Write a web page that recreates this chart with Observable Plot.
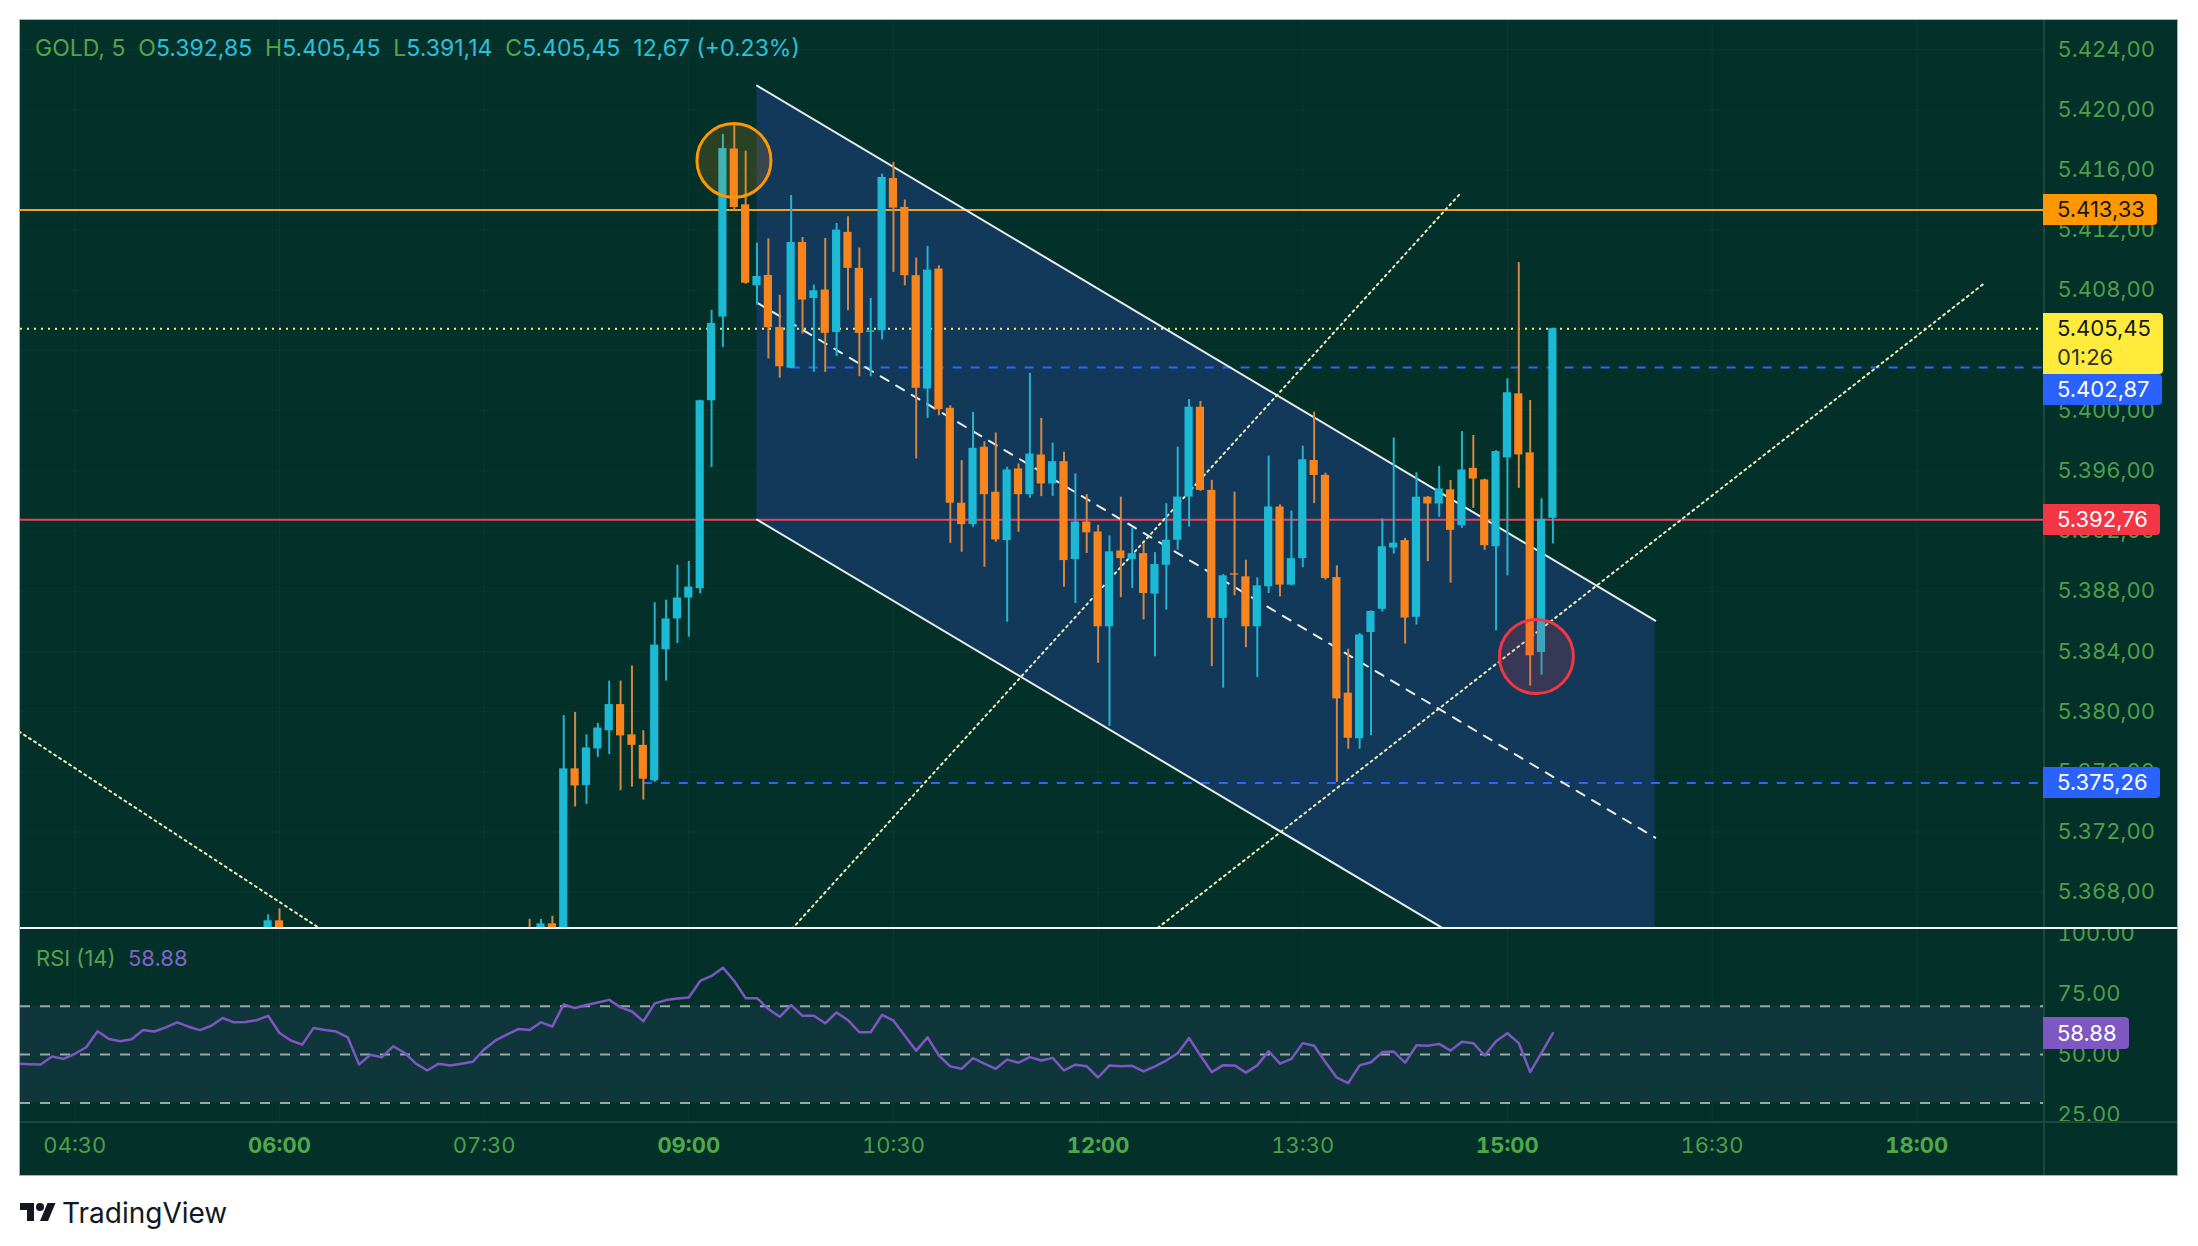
<!DOCTYPE html>
<html><head><meta charset="utf-8">
<script src="https://cdn.jsdelivr.net/npm/d3@7"></script>
<script src="https://cdn.jsdelivr.net/npm/@observablehq/plot@0.6"></script>
<style>
html,body{margin:0;padding:0;background:#fff;width:2198px;height:1246px;overflow:hidden;font-family:Inter,"DejaVu Sans",sans-serif;}
#frame{position:absolute;left:20px;top:20px;width:2157px;height:1155px;background:#03312a;outline:1px solid #a7b6b0;overflow:hidden}
#main,#rsi{position:absolute;left:0}
#main{top:0}
#rsi{top:908px}
.ln{position:absolute}
.tag{position:absolute;left:2023px;font-size:22px;line-height:31px;padding:0 12px 0 14px;border-radius:0 4px 4px 0;white-space:nowrap}
#hdr{position:absolute;left:15px;top:14px;font-size:23px;color:#27c2dc;white-space:pre}
#hdr .g{color:#55a34c}
#rsihdr{position:absolute;left:16px;top:925px;font-size:22px;white-space:pre}
#logo{position:absolute;left:20px;top:1196px;display:flex;align-items:center;gap:6px;font-size:28px;color:#131722}
</style></head>
<body>
<div id="frame"></div>
<div id="logo"><svg width="36" height="28" viewBox="0 0 36 28"><path d="M14 22H7V11H0V4h14v18zM28 22h-8l7.5-18h8L28 22z" fill="#131722"/><circle cx="20" cy="8" r="4" fill="#131722"/></svg><span>TradingView</span></div>
<script>
// ---------- DATA ----------
const symbol = "GOLD, 5";
const barIndex = [-37,-36,-14,-13,-12,-11,-10,-9,-8,-7,-6,-5,-4,-3,-2,-1,0,1,2,3,4,5,6,7,8,9,10,11,12,13,14,15,16,17,18,19,20,21,22,23,24,25,26,27,28,29,30,31,32,33,34,35,36,37,38,39,40,41,42,43,44,45,46,47,48,49,50,51,52,53,54,55,56,57,58,59,60,61,62,63,64,65,66,67,68,69,70,71,72,73,74,75,76];
const openP  = [5363.5,5366.1,5365.5,5364.3,5365.9,5364.6,5376.2,5375.09,5377.52,5378.73,5380.47,5378.46,5377.76,5375.4,5384.11,5386.16,5387.55,5388.17,5400.66,5406.22,5417.39,5413.68,5408.3,5408.99,5405.52,5402.82,5411.18,5407.46,5408.02,5405.2,5411.85,5409.46,5405.2,5405.32,5415.43,5413.51,5408.97,5401.44,5409.41,5400.16,5393.85,5392.43,5397.57,5394.58,5391.37,5396.13,5394.42,5397.06,5395.13,5396.61,5390.11,5392.6,5391.94,5385.64,5390.68,5390.11,5390.5,5387.81,5389.73,5391.39,5394.26,5400.23,5394.7,5386.2,5389.16,5388.96,5385.64,5388.3,5393.6,5388.41,5390.17,5396.69,5395.7,5388.91,5381.23,5378.2,5385.26,5386.8,5390.87,5391.37,5386.27,5394.25,5393.8,5394.74,5392.36,5396.17,5395.4,5390.96,5396.86,5401.12,5397.2,5383.93,5392.85];
const highP  = [5366.5,5366.9,5366.2,5366.2,5366.4,5379.74,5379.95,5378.46,5379.22,5382.03,5382.03,5383.04,5378.73,5387.24,5387.41,5389.73,5389.98,5400.7,5406.67,5418.36,5418.99,5417.25,5411.14,5411.42,5407.67,5414.3,5411.51,5408.35,5411.45,5412.44,5412.89,5410.81,5407.46,5415.72,5416.5,5414.0,5410.14,5410.92,5409.63,5400.33,5396.68,5399.89,5397.94,5398.52,5396.24,5396.46,5402.48,5399.49,5397.85,5397.24,5395.81,5394.42,5392.38,5391.68,5394.26,5392.21,5391.17,5390.57,5393.82,5397.58,5400.74,5400.61,5395.37,5389.11,5394.59,5390.06,5388.89,5396.98,5393.75,5393.33,5397.64,5399.9,5395.85,5389.69,5384.15,5385.2,5386.7,5392.8,5398.19,5391.52,5395.87,5394.3,5396.29,5395.36,5398.61,5398.35,5395.45,5397.35,5402.12,5409.84,5400.68,5394.14,5405.45];
const lowP   = [5363.0,5363.8,5363.9,5364.0,5364.2,5364.3,5373.67,5373.84,5376.96,5377.14,5374.74,5374.99,5374.12,5375.3,5382.03,5384.53,5384.95,5387.83,5396.22,5404.2,5413.3,5408.4,5407.01,5403.44,5402.16,5402.8,5405.09,5402.55,5402.55,5403.61,5406.64,5402.26,5402.26,5404.7,5409.19,5408.3,5396.79,5399.49,5399.67,5391.19,5390.59,5392.25,5389.6,5391.26,5385.94,5391.92,5394.18,5394.29,5394.31,5388.27,5387.19,5390.51,5383.21,5379.01,5387.57,5388.19,5386.09,5383.65,5386.75,5390.73,5392.27,5394.64,5382.99,5381.56,5387.7,5384.25,5382.26,5387.85,5387.63,5388.35,5389.56,5393.82,5388.74,5375.3,5377.5,5377.5,5378.4,5386.62,5390.47,5384.49,5385.76,5389.97,5392.91,5388.54,5392.18,5393.51,5390.72,5385.37,5389.03,5394.84,5381.71,5382.42,5391.14];
const closeP = [5366.1,5364.2,5364.3,5365.9,5364.6,5376.2,5375.06,5377.59,5378.91,5380.47,5378.39,5377.76,5375.51,5384.42,5386.16,5387.55,5388.28,5400.66,5405.8,5417.42,5413.5,5408.47,5408.92,5405.52,5402.92,5411.18,5407.35,5407.97,5405.14,5412.0,5409.46,5405.14,5405.3,5415.5,5413.46,5408.97,5401.49,5409.34,5400.07,5393.85,5392.43,5397.5,5394.42,5391.41,5396.06,5394.42,5397.12,5395.13,5396.61,5390.04,5392.6,5391.88,5385.64,5390.62,5390.17,5390.5,5387.85,5389.78,5391.39,5394.26,5400.23,5394.7,5386.2,5389.03,5389.07,5385.64,5388.36,5393.6,5388.41,5390.17,5396.74,5395.7,5388.85,5380.85,5378.23,5385.09,5386.66,5390.96,5391.2,5386.22,5394.25,5393.8,5394.8,5392.05,5396.06,5395.46,5391.03,5397.28,5401.19,5397.06,5383.71,5392.78,5405.45];

const rsiFirstBar = -59;
const rsiValues = [46.2,46.0,45.9,49.2,48.2,50.3,53.0,59.6,56.4,55.5,56.3,60.1,59.5,61.2,63.3,61.5,60.1,61.9,65.1,63.3,63.4,64.2,66.0,58.9,55.8,54.1,61.0,60.1,59.5,57.1,45.9,49.9,48.9,53.4,50.7,46.2,43.4,46.2,45.5,46.2,47.0,52.1,55.8,58.2,60.5,60.1,63.3,61.6,70.7,69.2,70.5,71.5,72.6,69.5,67.8,63.7,71.1,72.5,73.2,73.6,80.4,82.5,85.9,80.4,73.3,73.3,68.8,65.6,70.4,66.0,66.0,62.9,67.4,64.2,59.2,59.2,66.4,64.0,57.8,51.6,57.1,49.6,45.1,44.1,48.5,46.2,44.1,47.9,46.6,48.9,47.5,48.6,43.4,45.8,45.1,40.5,45.5,45.1,45.3,43.0,45.1,47.5,50.5,56.8,49.6,42.7,45.6,45.5,42.5,45.5,51.4,46.2,48.2,54.7,53.6,46.8,40.4,38.2,45.5,46.8,51.0,51.2,46.6,53.8,53.6,54.4,51.6,55.3,54.7,49.6,55.5,58.8,54.7,42.7,50.7,58.88];
const rsiLevels = [70, 50, 30];
const rsiTicks = [25, 50, 75, 100];

const timeTickBars = [-54,-36,-18,0,18,36,54,72,90,108];
const timeTickLabels = ["04:30","06:00","07:30","09:00","10:30","12:00","13:30","15:00","16:30","18:00"];
const priceTicks = [5368,5372,5376,5380,5384,5388,5392,5396,5400,5404,5408,5412,5416,5420,5424];

// drawings
const levelPrices = [5413.33, 5405.45, 5402.87, 5392.76, 5375.26];
const levelStartBar = [null, null, 9, null, -4];
const levelStyle = ["solid-orange","dotted-yellow","dashed-blue","solid-red","dashed-blue"];
const channelBars = [6, 85];
const channelUpper = [5421.6, 5386.05];
const channelLower = [5392.76, 5357.2];
const trendBars = [[-62, -30], [8, 67.93], [40, 113.9]];
const trendPrices = [[5380.21, 5364.38], [5364.67, 5414.5], [5364.9, 5408.44]];
const markerBars = [3.97, 74.55];
const markerPrices = [5416.63, 5383.66];
const markerColors = ["#ff9800", "#f23645"];
const countdown = "01:26";

// ---------- RENDER ----------
const W = 2157, AXW = 134, MAINH = 908, RSIH = 193, TAXH = 54;
const xDomain = [-58.78, 119.15];
const yDomain = [5365.59, 5425.93];
const green = "#4f9e49";
const UP = "#1cb9d5", DOWN = "#f7841d", UPW = "#22b3cf", DOWNW = "#d38743";
const fmt = d3.formatLocale({decimal: ",", thousands: ".", grouping: [3], currency: ["", ""]}).format(",.2f");

const bars = barIndex.map((n, i) => ({n, o: openP[i], h: highP[i], l: lowP[i], c: closeP[i], up: closeP[i] >= openP[i]}));
const channel = channelBars.map((n, i) => ({n, upper: channelUpper[i], lower: channelLower[i], mid: (channelUpper[i] + channelLower[i]) / 2}));
const trends = trendBars.flatMap((ns, k) => ns.map((n, j) => ({id: k, n, p: trendPrices[k][j]})));
const markers = markerBars.map((n, i) => ({n, p: markerPrices[i], color: markerColors[i]}));
const levels = levelPrices.map((p, i) => ({p, start: levelStartBar[i] ?? xDomain[0], style: levelStyle[i]}));
const rsi = rsiValues.map((v, i) => ({n: rsiFirstBar + i, v}));

const lvl = s => levels.filter(d => d.style === s);

const main = Plot.plot({
  width: W, height: MAINH, marginLeft: 0, marginRight: AXW, marginTop: 0, marginBottom: 0,
  x: {domain: xDomain, axis: null},
  y: {domain: yDomain, axis: null},
  style: {background: "transparent", fontFamily: "Inter, 'DejaVu Sans', sans-serif", fontSize: "22px", overflow: "hidden"},
  marks: [
    Plot.gridY(priceTicks, {stroke: "#ffffff", strokeOpacity: 0.035}),
    Plot.gridX(timeTickBars, {stroke: "#ffffff", strokeOpacity: 0.035}),
    Plot.areaY(channel, {x: "n", y1: "lower", y2: "upper", fill: "#13395a", clip: true}),
    Plot.ruleY(lvl("solid-orange"), {y: "p", x1: "start", x2: xDomain[1], stroke: "#f5a020", strokeWidth: 2, clip: true}),
    Plot.ruleY(lvl("solid-red"), {y: "p", x1: "start", x2: xDomain[1], stroke: "#f0405a", strokeWidth: 2, clip: true}),
    Plot.ruleY(lvl("dotted-yellow"), {y: "p", x1: "start", x2: xDomain[1], stroke: "#f3f07a", strokeWidth: 2, strokeDasharray: "2,5", clip: true}),
    Plot.ruleY(lvl("dashed-blue"), {y: "p", x1: "start", x2: xDomain[1], stroke: "#2b66ff", strokeWidth: 2, strokeDasharray: "9,9", clip: true}),
    Plot.line(channel, {x: "n", y: "upper", stroke: "#e8eef0", strokeWidth: 2, clip: true}),
    Plot.line(channel, {x: "n", y: "lower", stroke: "#e8eef0", strokeWidth: 2, clip: true}),
    Plot.line(channel, {x: "n", y: "mid", stroke: "#e8eef0", strokeWidth: 2, strokeDasharray: "9,9", clip: true}),
    Plot.line(trends, {x: "n", y: "p", z: "id", stroke: "#ecedb8", strokeWidth: 2, strokeDasharray: "2,4", clip: true}),
    Plot.ruleX(bars, {x: "n", y1: "l", y2: "h", stroke: d => d.up ? UPW : DOWNW, strokeWidth: 2, clip: true}),
    Plot.rect(bars, {x1: d => d.n - 0.36, x2: d => d.n + 0.36, y1: "o", y2: "c", fill: d => d.up ? UP : DOWN, clip: true}),
    Plot.dot(markers, {x: "n", y: "p", r: 37, stroke: "color", fill: "color", fillOpacity: 0.16, strokeWidth: 3, clip: true}),
    Plot.axisY(priceTicks, {anchor: "right", label: null, tickSize: 0, tickPadding: 14, tickFormat: fmt, color: green})
  ]
});
main.id = "main";

const boldTicks = timeTickBars.filter((n, i) => timeTickLabels[i].endsWith(":00"));
const thinTicks = timeTickBars.filter(n => !boldTicks.includes(n));
const tlabel = n => timeTickLabels[timeTickBars.indexOf(n)];

const rsiPlot = Plot.plot({
  width: W, height: RSIH + TAXH, marginLeft: 0, marginRight: AXW, marginTop: 0, marginBottom: TAXH,
  x: {domain: xDomain, axis: null},
  y: {domain: [22.3, 102.1], axis: null},
  style: {background: "transparent", fontFamily: "Inter, 'DejaVu Sans', sans-serif", fontSize: "22px", overflow: "hidden"},
  marks: [
    Plot.gridX(timeTickBars, {stroke: "#ffffff", strokeOpacity: 0.035}),
    Plot.rect([0], {x1: xDomain[0], x2: xDomain[1], y1: rsiLevels[2], y2: rsiLevels[0], fill: "#0f363a"}),
    Plot.ruleY(rsiLevels, {stroke: "#9ba7a4", strokeWidth: 2, strokeDasharray: "10,10"}),
    Plot.line(rsi, {x: "n", y: "v", stroke: "#7e57c2", strokeWidth: 2.5}),
    Plot.axisY(rsiTicks, {anchor: "right", label: null, tickSize: 0, tickPadding: 14, tickFormat: d3.format(".2f"), color: green}),
    Plot.axisX(thinTicks, {anchor: "bottom", label: null, tickSize: 0, tickPadding: 16, tickFormat: tlabel, color: green, fontWeight: 400}),
    Plot.axisX(boldTicks, {anchor: "bottom", label: null, tickSize: 0, tickPadding: 16, tickFormat: tlabel, color: "#4fa84a", fontWeight: 700})
  ]
});
rsiPlot.id = "rsi";

const frame = document.getElementById("frame");
frame.appendChild(main);
frame.appendChild(rsiPlot);

function addDiv(cls, css, html) {
  const d = document.createElement("div");
  d.className = cls; d.style.cssText = css; if (html != null) d.innerHTML = html;
  frame.appendChild(d); return d;
}
// pane separators
addDiv("ln", `left:${W - AXW}px;top:0;width:2px;height:1155px;background:#1b4a3d`);
addDiv("ln", `left:0;top:${MAINH + RSIH}px;width:${W}px;height:2px;background:#1b4a3d`);
addDiv("ln", `left:0;top:${MAINH - 1}px;width:${W}px;height:2px;background:#f2f4f3`);

// header
const last = bars[bars.length - 1], prev = bars[bars.length - 2];
const chg = last.c - prev.c;
const chgFmt = d3.formatLocale({decimal: ",", thousands: ".", grouping: [3], currency: ["", ""]}).format(".2f");
addDiv("", "", "").id = "hdr";
document.getElementById("hdr").innerHTML =
  `<span class="g">${symbol}</span>  <span class="g">O</span>${fmt(last.o)}  <span class="g">H</span>${fmt(last.h)}  <span class="g">L</span>${fmt(last.l)}  <span class="g">C</span>${fmt(last.c)}  ${chgFmt(chg)} (${chg >= 0 ? "+" : ""}${(chg / prev.c * 100).toFixed(2)}%)`;

const rsiLast = rsiValues[rsiValues.length - 1];
addDiv("", "", "").id = "rsihdr";
document.getElementById("rsihdr").innerHTML = `<span style="color:#55a34c">RSI (14)</span>  <span style="color:#8064c8">${rsiLast.toFixed(2)}</span>`;

// price tags on the axis
const ys = main.scale("y");
const tagDefs = [
  {p: levelPrices[0], bg: "#ff9800", fg: "#131722", text: fmt(levelPrices[0])},
  {p: last.c, bg: "#ffeb3b", fg: "#131722", text: fmt(last.c), sub: countdown},
  {p: levelPrices[2], bg: "#2962ff", fg: "#ffffff", text: fmt(levelPrices[2])},
  {p: levelPrices[3], bg: "#f23645", fg: "#ffffff", text: fmt(levelPrices[3])},
  {p: levelPrices[4], bg: "#2962ff", fg: "#ffffff", text: fmt(levelPrices[4])}
];
let prevBottom = -1e9;
tagDefs.sort((a, b) => b.p - a.p).forEach(t => {
  const h = t.sub ? 61 : 31;
  let top = ys.apply(t.p) - 15.5;
  if (top < prevBottom) top = prevBottom;
  prevBottom = top + h;
  const html = t.sub ? `${t.text}<br><span style="color:#333">${t.sub}</span>` : t.text;
  addDiv("tag", `top:${top}px;height:${h}px;background:${t.bg};color:${t.fg};${t.sub ? "line-height:29px;padding-top:1px;box-sizing:border-box" : ""}`, html);
});
const ry = rsiPlot.scale("y");
addDiv("tag", `top:${MAINH + ry.apply(rsiLast) - 16}px;height:32px;line-height:32px;background:#7e57c2;color:#fff`, rsiLast.toFixed(2));
</script>
</body></html>
